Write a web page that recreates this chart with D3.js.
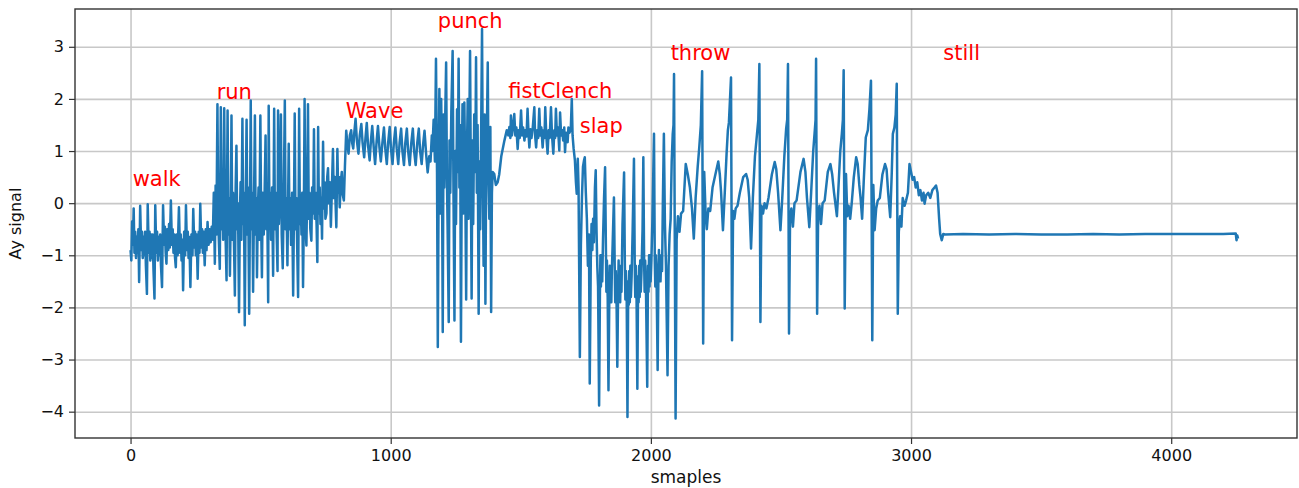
<!DOCTYPE html>
<html>
<head>
<meta charset="utf-8">
<script src="https://cdn.jsdelivr.net/npm/d3@7"></script>
<style>
body { margin: 0; background: #fff; }
</style>
</head>
<body>
<div id="visualization"></div>
<script>
// [sample, Ay] pairs, one array per activity
var walkData = [
	[0,-0.90],[3,-1.10],[6,-0.35],[9,-0.80],[12,-0.10],[15,-0.95],[18,-0.55],[21,-1.05],[24,-0.65],[27,-0.95],
	[30,-0.50],[33,-1.51],[37,-0.05],[41,-0.90],[44,-0.55],[47,-1.05],[50,-0.65],[53,-1.00],[56,-0.55],[59,-1.20],
	[63,-1.74],[66,-0.02],[70,-0.95],[73,-0.55],[76,-1.10],[79,-0.60],[82,-1.05],[85,-0.60],[88,-1.25],[92,-1.83],
	[95,-0.04],[99,-0.95],[102,-0.55],[105,-1.10],[108,-0.65],[111,-1.00],[114,-0.60],[117,-1.20],[121,-1.61],[125,-0.04],
	[129,-0.80],[132,-0.45],[135,-0.95],[138,-1.16],[141,-0.50],[145,-0.90],[148,-0.40],[151,-0.85],[155,0.05],[159,-0.80],
	[162,-0.50],[165,-0.95],[168,-0.60],[171,-1.05],[174,-1.23],[177,-0.60],[181,-1.00],[186,-0.08],[190,-0.95],[193,-0.60],
	[196,-1.10],[199,-0.70],[202,-1.67],[206,-0.55],[210,-1.00],[213,-0.04],[217,-0.90],[220,-0.55],[223,-1.05],[226,-0.65],
	[230,-1.61],[234,-0.60],[238,-1.00],[241,-0.11],[245,-0.85],[248,-0.55],[251,-1.00],[254,-0.60],[258,-1.45],[262,-0.55],
	[265,-0.95],[268,-0.01],[272,-0.85],[275,-0.50],[278,-0.95],[281,-0.55],[285,-1.19],[289,-0.50],[292,-0.90],[296,-0.36],
	[300,-0.80],[304,-0.50],[308,-0.75],[312,-0.45],[316,-0.70]
];
var runData = [
	[320,0.20],[324,-1.16],[327,0.34],[330,-0.60],[334,1.90],[337,-0.30],[340,-0.80],[343,-1.26],[345,0.10],[347,1.84],
	[350,-0.50],[353,0.20],[356,-0.70],[360,1.82],[363,-0.20],[366,-0.80],[369,-1.48],[371,0.30],[373,1.78],[376,-0.60],
	[379,0.10],[382,-1.39],[385,-0.20],[388,1.68],[391,-0.70],[394,0.20],[397,-0.60],[401,-1.77],[404,0.30],[407,1.10],
	[410,-0.50],[413,0.00],[417,-2.09],[420,-0.30],[423,0.40],[426,-0.70],[430,1.62],[433,-0.40],[436,0.20],[439,-2.34],
	[442,-0.30],[446,1.60],[449,-0.60],[452,0.30],[456,-2.12],[459,-0.20],[462,1.97],[465,-0.50],[468,0.20],[471,-1.70],
	[474,-0.30],[478,1.68],[481,-0.60],[484,0.10],[486,-1.42],[489,-0.20],[492,0.30],[495,-0.70],[499,1.68],[502,-0.40],
	[505,-1.42],[508,0.20],[512,-0.60],[515,0.10],[519,1.30],[522,-0.50],[525,0.20],[529,-1.90],[531,1.87],[534,-0.40],
	[537,0.20],[540,-0.70],[544,0.30],[548,-1.39],[552,1.81],[555,-0.50],[558,0.20],[562,-0.70],[565,-1.30],[567,1.78],
	[570,-0.40],[574,0.10],[578,1.70],[581,-0.60],[585,-1.25],[589,0.20],[593,1.97],[596,-0.50],[599,0.10],[603,-1.19],
	[606,0.20],[608,1.14],[611,-0.50],[614,0.10],[617,-0.80],[621,0.20],[625,-1.77],[628,-0.20],[631,1.72],[634,-0.50],
	[637,0.10],[640,-0.70],[644,-1.80],[646,-0.20],[648,1.81],[651,-0.40],[654,0.10],[657,-0.60],[660,0.20],[663,-1.61],
	[666,-0.30],[669,2.00],[672,-0.40],[676,-0.81],[679,0.30],[682,1.90],[685,-0.30],[688,0.20],[691,-0.50],[695,-0.72],
	[698,0.30],[702,-0.20],[705,1.42],[708,-0.30],[711,0.20],[715,-0.40],[718,-1.13],[721,1.46],[724,-0.20],[727,0.30],
	[730,-0.40],[733,0.10],[736,-0.68],[740,1.18],[743,-0.10],[746,0.40],[749,-0.30],[753,-0.20],[756,0.50],[759,0.67],
	[762,0.00],[766,0.40],[770,-0.45],[774,0.30],[778,1.04],[781,0.10],[785,0.50],[788,0.00],[791,-0.46],[795,1.04],
	[798,0.20],[801,0.50],[804,-0.08],[808,0.40],[812,0.60],[816,0.15],[820,0.05],[824,0.70],[829,1.39]
];
var waveData = [
	[834,1.10],[838,0.95],[843,1.30],[848,1.40],[852,1.15],[856,1.05],[860,1.35],[865,1.62],[870,1.20],[876,0.95],
	[881,1.30],[887,1.52],[892,1.15],[898,0.88],[903,1.25],[908,1.54],[913,1.10],[919,0.82],[924,1.20],[929,1.48],
	[935,1.05],[940,0.75],[946,1.20],[951,1.48],[957,1.05],[962,0.80],[968,1.15],[974,1.45],[979,1.05],[985,0.75],
	[990,1.15],[996,1.46],[1001,1.05],[1007,0.75],[1012,1.15],[1018,1.45],[1023,1.05],[1029,0.75],[1034,1.15],[1040,1.43],
	[1045,1.00],[1051,0.73],[1056,1.15],[1062,1.43],[1067,1.00],[1073,0.73],[1079,1.15],[1085,1.43],[1090,1.00],[1096,0.73],
	[1102,1.15],[1108,1.43],[1113,1.00],[1119,0.75],[1124,1.10],[1130,1.39],[1136,0.95],[1142,0.59],[1148,0.90],[1153,0.80],
	[1158,1.30]
];
var punchData = [
	[1160,1.00],[1165,1.60],[1170,0.80],[1174,2.77],[1178,0.60],[1181,-2.76],[1184,0.20],[1187,2.19],[1190,-0.20],[1194,2.00],
	[1197,0.80],[1200,-2.47],[1203,1.70],[1206,0.30],[1210,1.80],[1213,2.70],[1216,0.50],[1219,-0.60],[1223,-2.28],[1226,1.20],
	[1229,0.20],[1233,1.75],[1238,2.92],[1241,0.40],[1245,-2.25],[1248,1.00],[1251,-0.40],[1255,1.80],[1258,0.60],[1261,2.77],
	[1264,0.30],[1267,1.50],[1270,-2.66],[1273,0.50],[1276,1.90],[1279,-0.20],[1283,1.93],[1286,0.80],[1290,-1.85],[1293,1.00],
	[1296,2.00],[1299,-0.30],[1302,1.40],[1305,2.92],[1308,0.40],[1311,-1.83],[1314,1.20],[1317,-0.40],[1321,1.70],[1325,0.60],
	[1328,2.80],[1331,0.20],[1334,1.50],[1338,-2.12],[1341,0.80],[1344,-0.50],[1348,1.60],[1351,3.34],[1354,0.60],[1357,-1.20],
	[1361,1.70],[1364,-1.93],[1367,0.80],[1370,1.50],[1373,2.70],[1376,0.40],[1379,-0.30],[1383,1.46],[1386,-2.09],[1389,0.20],
	[1392,0.60],[1398,0.56],[1404,0.35],[1411,0.40],[1417,0.55],[1425,0.90],[1437,1.20],[1446,1.40],[1452,1.30]
];
var fistClenchData = [
	[1456,1.46],[1460,1.25],[1462,1.68],[1466,1.30],[1470,1.45],[1475,1.71],[1479,1.30],[1483,1.45],[1488,1.04],[1492,1.40],
	[1496,1.25],[1501,1.78],[1505,1.30],[1509,1.45],[1514,1.20],[1518,1.40],[1522,1.28],[1526,1.81],[1530,1.30],[1533,1.07],
	[1537,1.42],[1541,1.25],[1546,1.45],[1552,1.84],[1555,1.30],[1559,1.07],[1563,1.40],[1567,1.25],[1571,1.81],[1575,1.30],
	[1579,1.45],[1584,1.07],[1588,1.40],[1591,1.25],[1594,1.84],[1598,1.30],[1603,0.95],[1607,1.40],[1611,1.25],[1616,1.84],
	[1620,1.30],[1625,0.95],[1629,1.40],[1632,1.25],[1635,1.81],[1639,1.30],[1643,1.45],[1648,1.01],[1651,1.74],[1655,1.30],
	[1659,1.40],[1663,1.20],[1667,1.45],[1670,0.98],[1674,1.35],[1678,1.20],[1680,1.17],[1683,1.45],[1687,1.35],[1692,1.40],
	[1696,2.00],[1699,1.30]
];
var slapData = [
	[1703,1.05],[1708,0.82],[1712,0.40],[1715,0.18],[1719,0.85],[1722,0.30],[1727,-2.95],[1731,-0.80],[1735,0.10],[1739,0.70],
	[1743,0.82],[1746,0.88],[1750,0.20],[1754,-0.30],[1758,-1.20],[1762,-0.60],[1765,-3.46],[1769,-1.10],[1772,-0.40],[1775,-0.90],
	[1778,-0.30],[1781,-0.75],[1785,0.30],[1788,0.63],[1791,-0.50],[1794,-1.20],[1797,-1.60],[1801,-3.88],[1804,-1.80],[1806,-1.00],
	[1808,-1.60],[1810,-1.00],[1813,-1.50],[1816,-0.70],[1820,0.10],[1824,0.69],[1827,-0.80],[1829,-1.70],[1831,-1.10],[1834,-1.80],
	[1837,-3.59],[1840,-1.90],[1842,-1.20],[1844,-1.80],[1846,-1.20],[1848,-1.90],[1850,-1.30],[1853,-0.80],[1858,0.11],[1861,-1.20],
	[1863,-1.90],[1865,-1.30],[1868,-1.85],[1871,-3.14],[1874,-1.70],[1876,-1.10],[1878,-1.80],[1880,-1.20],[1882,-1.90],[1884,-1.30],
	[1887,-1.70],[1891,-0.40],[1897,0.59],[1900,-1.20],[1902,-1.85],[1904,-1.30],[1907,-1.80],[1910,-4.10],[1913,-1.50],[1915,-1.95],
	[1917,-1.30],[1919,-1.90],[1921,-1.20],[1923,-1.80],[1926,-1.40],[1930,-0.50],[1935,0.85],[1938,-1.20],[1940,-1.80],[1942,-1.20],
	[1945,-1.85],[1948,-3.56],[1951,-1.40],[1953,-1.90],[1955,-1.20],[1957,-1.80],[1959,-1.10],[1961,-1.70],[1964,-1.30],[1968,-0.50],
	[1971,0.88],[1974,-1.10],[1976,-1.70],[1978,-1.10],[1981,-1.60],[1986,-3.52],[1989,-1.20],[1991,-1.70],[1993,-1.00],[1995,-1.60],
	[1997,-1.00],[1999,-1.50],[2002,-1.10],[2006,-0.30],[2012,1.33],[2015,-1.10],[2017,-1.60],[2019,-1.00],[2022,-1.50],[2026,-3.20],
	[2029,-1.30],[2031,-0.90],[2033,-1.40],[2035,-1.00],[2037,-1.50],[2040,-1.00],[2043,-1.30],[2046,0.00],[2050,1.33],[2054,-0.40],
	[2058,-1.20],[2064,-3.30],[2068,-1.20],[2072,-0.60],[2076,-0.30],[2080,0.80],[2084,1.33],[2087,1.50],[2089,2.48],[2095,-4.13]
];
var throwData = [
	[2099,-0.70],[2104,-0.25],[2110,-0.55],[2116,-0.20],[2124,-0.15],[2134,0.75],[2142,0.55],[2150,0.30],[2158,-0.10],[2165,-0.68],
	[2172,0.10],[2180,0.70],[2186,1.07],[2192,1.50],[2197,2.53],
	[2201,-2.69],[2205,0.60],[2210,-0.15],[2215,-0.50],[2221,-0.10],[2228,-0.15],[2237,0.30],[2250,0.60],[2259,0.80],[2265,0.55],
	[2270,0.20],[2277,-0.52],[2284,0.20],[2291,0.95],[2296,1.40],[2300,1.55],[2308,2.41],
	[2312,-2.63],[2316,-0.15],[2321,-0.30],[2326,-0.10],[2333,-0.05],[2342,0.20],[2355,0.50],[2366,0.56],[2372,0.45],[2378,0.10],
	[2385,-0.87],[2392,0.10],[2400,0.90],[2408,1.33],[2413,1.60],[2417,2.67],
	[2421,-2.28],[2425,-0.05],[2431,-0.20],[2437,0.00],[2444,-0.10],[2452,0.10],[2465,0.55],[2476,0.79],[2482,0.65],[2489,0.20],
	[2498,-0.52],[2505,0.10],[2513,0.90],[2520,1.43],[2524,1.60],[2527,2.67],
	[2531,-2.50],[2535,-0.30],[2540,-0.10],[2546,-0.45],[2552,0.00],[2560,0.05],[2575,0.60],[2587,0.85],[2594,0.60],[2600,0.10],
	[2609,-0.46],[2616,0.20],[2624,1.00],[2630,1.39],[2633,1.60],[2635,2.77],
	[2639,-2.12],[2643,-0.20],[2648,-0.05],[2654,-0.40],[2660,0.00],[2668,0.05],[2680,0.60],[2690,0.75],[2697,0.55],[2704,0.20],
	[2715,-0.25],[2721,0.30],[2728,1.00],[2734,1.33],[2738,1.60],[2741,2.55],
	[2745,-2.02],[2750,0.56],[2755,-0.25],[2760,-0.05],[2766,-0.30],[2772,0.00],[2780,0.50],[2789,0.88],[2795,0.75],[2801,0.35],
	[2806,0.10],[2812,-0.30],[2818,0.40],[2826,1.26],[2834,1.40],[2840,1.80],[2846,2.35],
	[2851,-2.63],[2855,0.35],[2860,-0.52],[2866,-0.10],[2872,0.05],[2880,0.10],[2890,0.55],[2900,0.75],[2906,0.65],[2912,0.20],
	[2920,-0.27],[2926,0.60],[2930,1.33],[2936,1.45],[2941,1.70],[2945,2.29],
	[2949,-2.12],[2953,-0.55],[2958,-0.25],[2963,-0.45],[2968,0.10],[2975,-0.05],[2981,0.05],[2988,0.20],[2994,0.75],[3000,0.60],
	[3006,0.45],[3012,0.50],[3018,0.30],[3024,0.40],[3030,0.15],[3036,0.25],[3042,0.05],[3048,0.20],[3052,-0.01],[3058,0.15],
	[3066,0.20],[3074,0.10],[3082,0.25],[3090,0.30],[3096,0.34],[3102,0.20],[3108,-0.30],[3112,-0.59],[3118,-0.71],[3124,-0.59]
];
var stillData = [
	[3130,-0.60],[3200,-0.59],[3300,-0.60],[3400,-0.59],[3500,-0.60],[3600,-0.60],[3700,-0.59],[3800,-0.60],[3900,-0.59],
	[4000,-0.59],[4100,-0.59],[4200,-0.59],[4248,-0.58],[4251,-0.71],[4254,-0.62],[4257,-0.68]
];

var xTicks = [0, 1000, 2000, 3000, 4000];
var yTicks = [-4, -3, -2, -1, 0, 1, 2, 3];

// activity names and where they were written (sample, Ay)
var activityNames = ["walk", "run", "Wave", "punch", "fistClench", "slap", "throw", "still"];
var activityAt = [[8,0.32],[331,1.99],[827,1.64],[1181,3.37],[1452,2.02],[1727,1.34],[2076,2.75],[3124,2.75]];

var width = 1299, height = 488;
var margin = {top: 9, right: 2, bottom: 50, left: 75};
var plotW = width - margin.left - margin.right;
var plotH = height - margin.top - margin.bottom;

var signal = walkData.concat(runData, waveData, punchData, fistClenchData, slapData, throwData, stillData);

var svg = d3.select("#visualization").append("svg")
	.attr("width", width)
	.attr("height", height)
	.style("font-family", "'DejaVu Sans', sans-serif");

// matplotlib style 5% margins round the data
var x = d3.scaleLinear().domain([-213.5, 4483.5]).range([margin.left, margin.left + plotW]);
var y = d3.scaleLinear().domain([-4.505, 3.725]).range([margin.top + plotH, margin.top]);

// Grid lines first so the signal sits on top
svg.append("g")
	.attr("transform", "translate(0," + (margin.top + plotH) + ")")
	.call(d3.axisBottom(x).tickValues(xTicks).tickSize(-plotH).tickFormat(""))
	.call(function(g){ g.select(".domain").remove(); })
	.selectAll("line")
	.attr("stroke", "#c8c8c8")
	.attr("stroke-width", 1.6);

svg.append("g")
	.attr("transform", "translate(" + margin.left + ",0)")
	.call(d3.axisLeft(y).tickValues(yTicks).tickSize(-plotW).tickFormat(""))
	.call(function(g){ g.select(".domain").remove(); })
	.selectAll("line")
	.attr("stroke", "#c8c8c8")
	.attr("stroke-width", 1.6);

var line = d3.line()
	.x(function(d){ return x(d[0]); })
	.y(function(d){ return y(d[1]); });

svg.append("path")
	.datum(signal)
	.attr("d", line)
	.attr("fill", "none")
	.attr("stroke", "#1f77b4")
	.attr("stroke-width", 2.5)
	.attr("stroke-linejoin", "round");

// Red activity labels
svg.selectAll(".activity")
	.data(activityNames)
	.enter().append("text")
	.attr("class", "activity")
	.attr("x", function(d, i){ return x(activityAt[i][0]); })
	.attr("y", function(d, i){ return y(activityAt[i][1]); })
	.text(function(d){ return d; })
	.attr("font-size", "21px")
	.attr("fill", "red");

// Axes with ticks and labels
var xAxis = svg.append("g")
	.attr("transform", "translate(0," + (margin.top + plotH) + ")")
	.call(d3.axisBottom(x).tickValues(xTicks).tickSize(6).tickPadding(6).tickFormat(d3.format("d")));
xAxis.select(".domain").remove();
xAxis.selectAll("line").attr("stroke", "#333").attr("stroke-width", 1.2);
xAxis.selectAll("text").attr("font-size", "16px").attr("fill", "#111").attr("font-family", "'DejaVu Sans', sans-serif");

var yAxis = svg.append("g")
	.attr("transform", "translate(" + margin.left + ",0)")
	.call(d3.axisLeft(y).tickValues(yTicks).tickSize(6).tickPadding(5).tickFormat(d3.format("d")));
yAxis.select(".domain").remove();
yAxis.selectAll("line").attr("stroke", "#333").attr("stroke-width", 1.2);
yAxis.selectAll("text").attr("font-size", "16px").attr("fill", "#111").attr("font-family", "'DejaVu Sans', sans-serif");

// Frame round the plot
svg.append("rect")
	.attr("x", margin.left)
	.attr("y", margin.top)
	.attr("width", plotW)
	.attr("height", plotH)
	.attr("fill", "none")
	.attr("stroke", "#333")
	.attr("stroke-width", 1.4);

svg.append("text")
	.attr("x", margin.left + plotW / 2)
	.attr("y", 483)
	.attr("text-anchor", "middle")
	.attr("font-size", "17px")
	.attr("fill", "#111")
	.text("smaples");

svg.append("text")
	.attr("transform", "translate(21," + (margin.top + plotH / 2) + ") rotate(-90)")
	.attr("text-anchor", "middle")
	.attr("font-size", "16px")
	.attr("fill", "#111")
	.text("Ay signal");
</script>
</body>
</html>
